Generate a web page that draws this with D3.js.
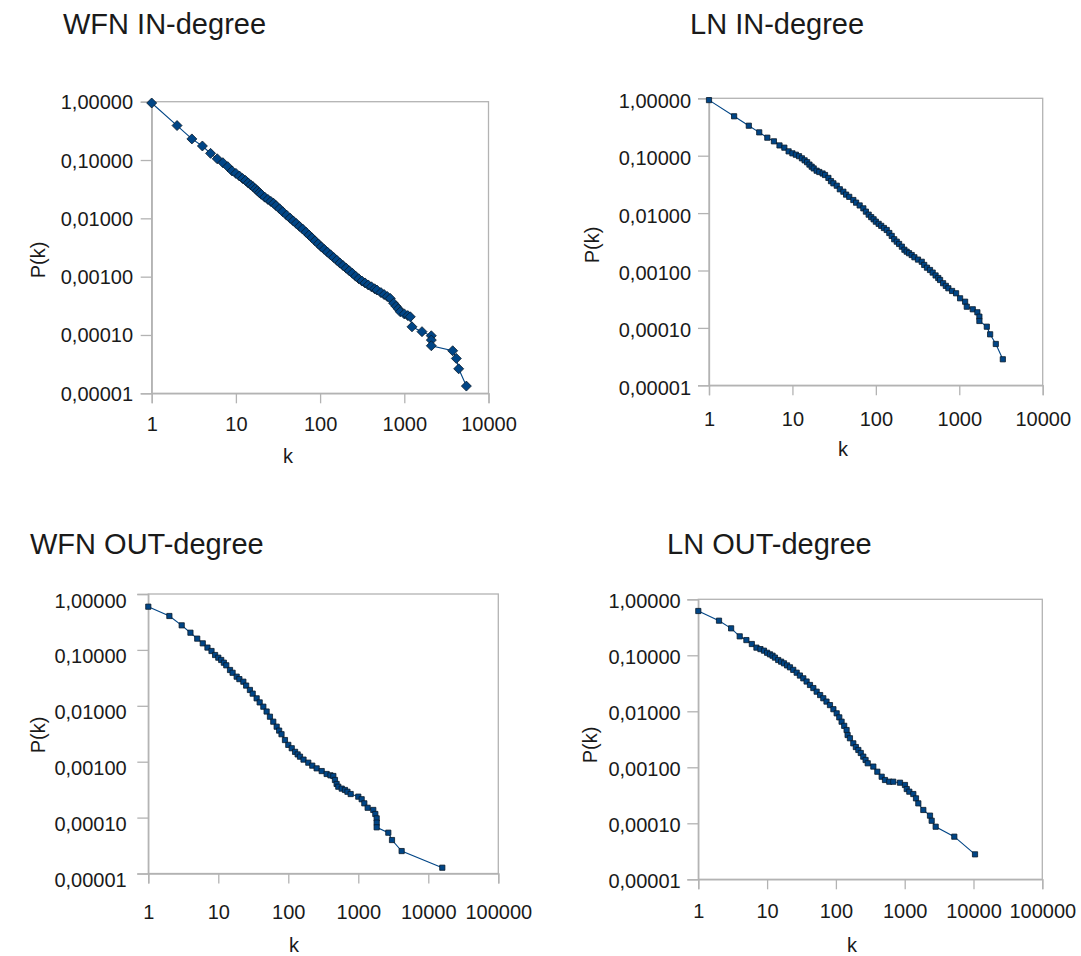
<!DOCTYPE html>
<html>
<head>
<meta charset="utf-8">
<script src="https://cdn.jsdelivr.net/npm/d3@7/dist/d3.min.js"></script>
<style>
  html, body { margin: 0; padding: 0; background: #fff; }
  svg { display: block; }
  text { font-family: "Liberation Sans", Arial, sans-serif; fill: #1a1a1a; }
</style>
</head>
<body>
<svg id="chart" width="1081" height="956"></svg>
<script>
// ---------- data ----------
const titles = ["WFN IN-degree", "LN IN-degree", "WFN OUT-degree", "LN OUT-degree"];
const yTickValues = [1, 0.1, 0.01, 0.001, 0.0001, 0.00001];
const yTickLabels = ["1,00000", "0,10000", "0,01000", "0,00100", "0,00010", "0,00001"];
const xTickValuesIn = [1, 10, 100, 1000, 10000];
const xTickValuesOut = [1, 10, 100, 1000, 10000, 100000];

const wfnInK = [1,2,3,4,5,6,7,8,9,10,11,12,13,14,15,16,17,18,19,20,22,24,26,28,30,33,36,40,44,48,52,57,62,68,74,80,87,95,103,112,122,133,145,158,172,187,204,222,242,264,288,314,342,373,407,444,473,528,576,628,681,746,800,850,896,1000,1100,1178,1234,1622,2094,2094,2094,3756,4150,4426,5460];
const wfnInP = [0.95,0.39,0.23,0.174,0.13,0.105,0.09,0.077,0.065,0.059,0.0532,0.0482,0.0445,0.0405,0.0374,0.0348,0.0321,0.0297,0.0276,0.0258,0.0231,0.0211,0.0195,0.0181,0.0165,0.0146,0.013,0.01135,0.01007,0.00903,0.00817,0.00728,0.00656,0.00579,0.00516,0.00463,0.00411,0.00365,0.00326,0.00294,0.00264,0.00237,0.00213,0.00191,0.00171,0.00155,0.0014,0.00126,0.00114,0.00102,0.00092,0.00084,0.00078,0.00072,0.00067,0.00062,0.00059,0.000533,0.000493,0.000456,0.000424,0.00035,0.00031,0.00028,0.00025,0.00023,0.000215,0.000205,0.000138,0.000114,0.0000969,0.0000818,0.0000653,0.0000536,0.0000396,0.0000263,0.0000133];

const lnInK = [1,2,3,4,5,6,7,8,9,10,11,12,13,14,15,16,17,18,19.5,21,23,24.6,27,29,31,34,37,40.8,44,48,53.7,58,64,70.8,76,82,88,94,100,108,116,125,135,145,155,166,178,190,205,220,234,250,269,290,320,355,380,410,446,480,520,560,589,640,690,740,820,916,1023,1175,1230,1452,1648,1742,1742,2138,2344,2741,3327];
const lnInP = [0.93,0.486,0.333,0.255,0.206,0.178,0.151,0.138,0.119,0.11,0.104,0.098,0.09,0.083,0.077,0.07,0.0644,0.06,0.0548,0.052,0.049,0.0461,0.041,0.036,0.033,0.03,0.026,0.0236,0.021,0.0192,0.0169,0.0152,0.0136,0.0121,0.0106,0.0094,0.0085,0.0078,0.00709,0.0065,0.006,0.0055,0.00508,0.0045,0.004,0.0035,0.00318,0.0029,0.0026,0.0023,0.00213,0.002,0.00186,0.0017,0.00155,0.00142,0.00125,0.00112,0.00102,0.00092,0.00082,0.00074,0.000683,0.0006,0.00054,0.00049,0.00044,0.000401,0.000328,0.000286,0.000234,0.000211,0.000187,0.000157,0.000132,0.000105,0.0000773,0.0000525,0.0000284];

const wfnOutK = [1,2,3,4,5,6,7,8,9,10,11,12,13,14.7,16,18.3,20,22.8,25,28.3,31,35.3,39,44,49,54.7,61,68.2,74,80,89.6,100,112,125,136,147,165,193,220,254,300,353,400,440,464,490,518,580,645,700,778,1000,1117,1219,1360,1637,1750,1830,1830,1830,2683,3030,4160,15850];
const wfnOutP = [0.593,0.404,0.275,0.203,0.159,0.131,0.11,0.0955,0.081,0.0726,0.066,0.059,0.053,0.0437,0.039,0.0332,0.03,0.027,0.023,0.0192,0.0165,0.0136,0.0115,0.00964,0.0079,0.00638,0.0052,0.00423,0.0036,0.0031,0.00244,0.002,0.00174,0.0015,0.00135,0.00123,0.00109,0.00096,0.00085,0.00076,0.00068,0.000603,0.00057,0.000555,0.000471,0.0004,0.000357,0.00033,0.000312,0.00029,0.000264,0.000237,0.000213,0.00018,0.00015,0.000137,0.000116,0.000097,0.0000813,0.000067,0.0000537,0.0000397,0.0000252,0.0000127];

const lnOutK = [1,2,3,4,5,6,7,8,9,10,11,12,13,14.5,16,17.6,19.5,21.5,24,26.9,30,33.6,37.5,42,47,52.5,59,65.6,73,82,92,102.6,112,121,132,143,148,160,179,195,212,230,250,270,290,350,400,463,517,597,682,855,1009,1071,1167,1334,1459,1577,1864,2332,2467,2820,5260,10520];
const lnOutP = [0.618,0.415,0.303,0.218,0.187,0.159,0.137,0.129,0.121,0.111,0.104,0.0984,0.091,0.0824,0.077,0.0719,0.066,0.061,0.055,0.0489,0.0435,0.0388,0.034,0.0295,0.026,0.0224,0.0195,0.0171,0.0149,0.0129,0.0109,0.0092,0.0078,0.00652,0.0055,0.00463,0.00377,0.0033,0.00268,0.0023,0.00204,0.0018,0.00155,0.00135,0.00118,0.00103,0.000834,0.000679,0.000593,0.000553,0.000553,0.000531,0.000483,0.000409,0.000367,0.000333,0.000279,0.000227,0.000173,0.000137,0.000111,0.0000869,0.0000577,0.0000279];

// ---------- layout ----------
const panels = [
  { title: titles[0], ks: wfnInK, ps: wfnInP, xTicks: xTickValuesIn, xMax: 1e4,
    left: 151.7, right: 488.5, top: 101.7, bottom: 393.3, marker: "diamond",
    titleX: 63, titleY: 34, yLabX: 133, yLabDy: 0, xLabY: 431.5, pkX: 38, pkY: 260, kX: 288, kY: 463 },
  { title: titles[1], ks: lnInK, ps: lnInP, xTicks: xTickValuesIn, xMax: 1e4,
    left: 709, right: 1042.7, top: 98.3, bottom: 385.3, marker: "square",
    titleX: 690, titleY: 34, yLabX: 691, yLabDy: 2, xLabY: 426, pkX: 592, pkY: 245, kX: 843, kY: 456 },
  { title: titles[2], ks: wfnOutK, ps: wfnOutP, xTicks: xTickValuesOut, xMax: 1e5,
    left: 148.3, right: 498.3, top: 594, bottom: 873.5, marker: "square",
    titleX: 30, titleY: 554, yLabX: 126.7, yLabDy: 6, xLabY: 918.5, pkX: 38, pkY: 735, kX: 294, kY: 952 },
  { title: titles[3], ks: lnOutK, ps: lnOutP, xTicks: xTickValuesOut, xMax: 1e5,
    left: 698.3, right: 1042.3, top: 599.3, bottom: 879.3, marker: "square",
    titleX: 667, titleY: 554, yLabX: 680.7, yLabDy: 1.5, xLabY: 918.3, pkX: 590, pkY: 745, kX: 852, kY: 952 }
];

const svg = d3.select("#chart");
const gridColor = "#b3b3b3";
const lineColor = "#004586";

panels.forEach(p => {
  const g = svg.append("g");
  const x = d3.scaleLog().domain([1, p.xMax]).range([p.left, p.right]);
  const y = d3.scaleLog().domain([0.00001, 1]).range([p.bottom, p.top]);

  g.append("rect")
    .attr("x", p.left).attr("y", p.top)
    .attr("width", p.right - p.left).attr("height", p.bottom - p.top)
    .attr("fill", "none").attr("stroke", gridColor).attr("stroke-width", 1.3);

  const yAxis = d3.axisLeft(y).tickValues(yTickValues).tickSize(11).tickPadding(0)
    .tickFormat((d, i) => yTickLabels[i]);
  const ya = g.append("g").attr("transform", `translate(${p.left},0)`).call(yAxis);
  ya.select(".domain").attr("stroke", gridColor).attr("stroke-width", 1.3);
  ya.selectAll(".tick line").attr("stroke", gridColor).attr("stroke-width", 1.3);
  ya.selectAll(".tick text")
    .attr("x", p.yLabX - p.left).attr("dy", "0.35em")
    .attr("transform", `translate(0,${p.yLabDy})`)
    .style("font-size", "20px").style("font-family", '"Liberation Sans", Arial, sans-serif')
    .attr("fill", "#1a1a1a");

  const xAxis = d3.axisBottom(x).tickValues(p.xTicks).tickSize(10).tickPadding(0)
    .tickFormat(d3.format("d"));
  const xa = g.append("g").attr("transform", `translate(0,${p.bottom})`).call(xAxis);
  xa.select(".domain").attr("stroke", gridColor).attr("stroke-width", 1.3);
  xa.selectAll(".tick line").attr("stroke", gridColor).attr("stroke-width", 1.3);
  xa.selectAll(".tick text")
    .attr("y", p.xLabY - p.bottom).attr("dy", 0)
    .style("font-size", "20px").style("font-family", '"Liberation Sans", Arial, sans-serif')
    .attr("fill", "#1a1a1a");

  const data = p.ks.map((k, i) => ({ k, p: p.ps[i] }));
  g.append("path").datum(data)
    .attr("fill", "none").attr("stroke", lineColor).attr("stroke-width", 1.1)
    .attr("d", d3.line().x(d => x(d.k)).y(d => y(d.p)));

  const shape = p.marker === "diamond" ? "M0,-5L5,0L0,5L-5,0Z" : "M-2.6,-2.6H2.6V2.6H-2.6Z";
  g.selectAll("path.pt").data(data).enter().append("path")
    .attr("class", "pt")
    .attr("d", shape)
    .attr("transform", d => `translate(${x(d.k)},${y(d.p)})`)
    .attr("fill", lineColor).attr("stroke", "#0a1a2a").attr("stroke-width", 0.8);

  g.append("text").attr("x", p.titleX).attr("y", p.titleY)
    .style("font-size", "29px").text(p.title);
  g.append("text")
    .attr("transform", `translate(${p.pkX + 7},${p.pkY}) rotate(-90)`)
    .attr("text-anchor", "middle").style("font-size", "20px").text("P(k)");
  g.append("text").attr("x", p.kX).attr("y", p.kY)
    .attr("text-anchor", "middle").style("font-size", "20px").text("k");
});
</script>
</body>
</html>
